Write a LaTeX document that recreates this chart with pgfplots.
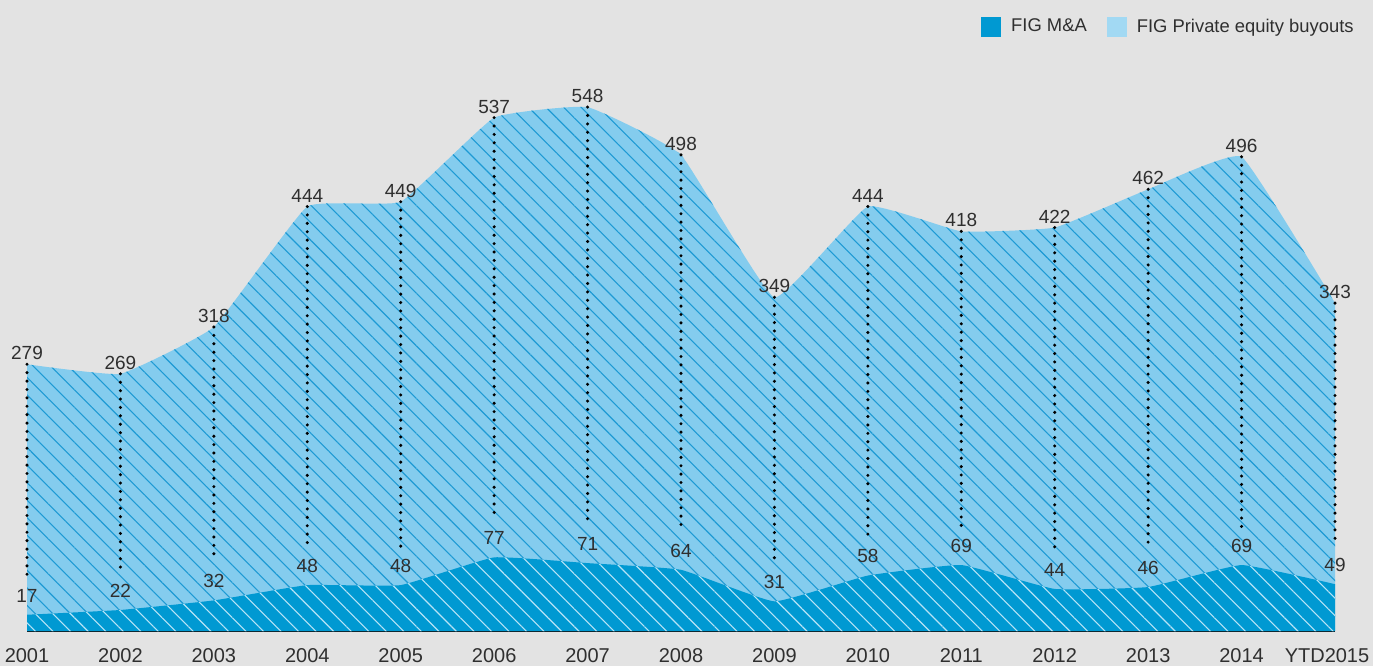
\documentclass[border=0pt]{standalone}
\usepackage{fontspec}
\setmainfont{Liberation Sans}
\usepackage{pgfplots}
\pgfplotsset{compat=1.18}
\usepackage{pgfplotstable}
\usetikzlibrary{patterns.meta}

\definecolor{bg}{HTML}{E3E3E3}
\definecolor{dk}{HTML}{0099D2}
\definecolor{lt}{HTML}{84CCEE}
\definecolor{ltleg}{HTML}{A2D9F3}
\definecolor{hatchlt}{HTML}{1E9AD4}
\definecolor{hatchdk}{HTML}{B8E3F6}
\definecolor{txt}{HTML}{2F2F2F}

\pgfplotstableread{
x tot ma
0 279 17
1 269 22
2 318 32
3 444 48
4 449 48
5 537 77
6 548 71
7 498 64
8 349 31
9 444 58
10 418 69
11 422 44
12 462 46
13 496 69
14 343 49
}\data

\begin{document}
\begin{tikzpicture}
\fill[bg] (-13.5pt,-17.5pt) rectangle (673pt,315.5pt);
\begin{axis}[
  scale only axis, width=654pt, height=286.8pt,
  xmin=0, xmax=14, ymin=0, ymax=600,
  clip=false,
  hide y axis,
  axis x line=bottom,
  x axis line style={-, black, line width=0.8pt},
  /pgf/number format/assume math mode=true,
  xtick={0,...,14},
  xticklabels={2001,2002,2003,2004,2005,2006,2007,2008,2009,2010,2011,2012,2013,2014,{\makebox[0pt][c]{YTD2015\kern8pt}}},
  major tick length=0pt,
  xticklabel style={font=\fontsize{10}{12}\selectfont, text=txt, yshift=-5pt},
  legend style={at={(1.0176,1.075)}, anchor=north east, draw=none, fill=none,
    legend columns=2, font=\fontsize{9.2}{11}\selectfont, text=txt, inner sep=0pt,
    /tikz/every even column/.append style={column sep=8pt},
    /tikz/every odd column/.append style={column sep=3pt}},
  legend image code/.code={\fill[#1] (0pt,-5pt) rectangle (10pt,5pt);},
]
\addlegendimage{fill=dk, draw=none}
\addlegendentry{FIG M\&A}
\addlegendimage{fill=ltleg, draw=none}
\addlegendentry{FIG Private equity buyouts}

% total area
\addplot[forget plot, fill=lt, draw=none, smooth, tension=0.2] table[x=x,y=tot]{\data} \closedcycle;
\addplot[forget plot, draw=none, pattern={Lines[angle=-45,distance=6.2pt,line width=0.55pt]}, pattern color=hatchlt, smooth, tension=0.2] table[x=x,y=tot]{\data} \closedcycle;
% M&A area
\addplot[forget plot, fill=dk, draw=none, smooth, tension=0.2] table[x=x,y=ma]{\data} \closedcycle;
\addplot[forget plot, draw=none, pattern={Lines[angle=-45,distance=6.2pt,line width=0.55pt]}, pattern color=hatchdk, smooth, tension=0.2] table[x=x,y=ma]{\data} \closedcycle;

% dotted connectors
\addplot[forget plot, draw=none, mark=none,
  error bars/.cd, y dir=minus, y explicit, error mark=none,
  error bar style={draw=black, line width=1.7pt, line cap=round, dash pattern=on 0pt off 4.2pt}]
  table[x=x, y=tot, y error expr=\thisrow{tot}-\thisrow{ma}-40]{\data};

% labels
\addplot[forget plot, draw=none, mark=none, nodes near coords,
  nodes near coords style={anchor=south, inner sep=1pt, yshift=1pt, font=\fontsize{9.5}{11}\selectfont, text=txt}]
  table[x=x, y=tot]{\data};
\addplot[forget plot, draw=none, mark=none, nodes near coords,
  nodes near coords style={anchor=south, inner sep=1pt, yshift=5pt, font=\fontsize{9.5}{11}\selectfont, text=txt}]
  table[x=x, y=ma]{\data};
\end{axis}
\pgfresetboundingbox
\path (-13.5pt,-17.5pt) rectangle (673pt,315.5pt);
\end{tikzpicture}
\end{document}
